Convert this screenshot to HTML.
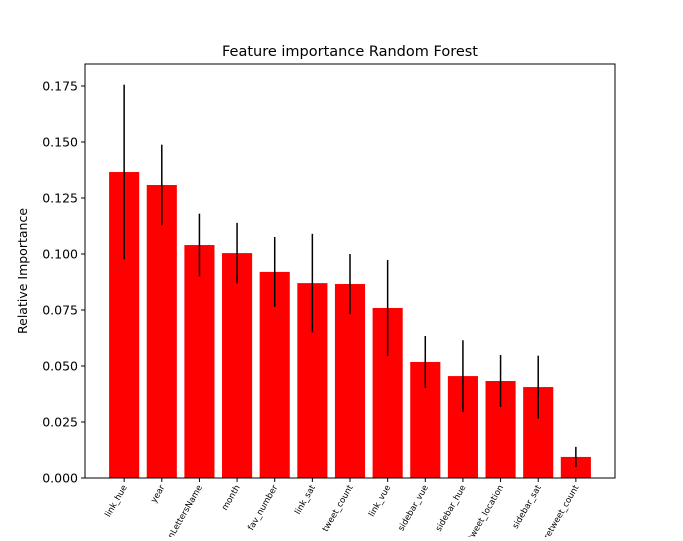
<!DOCTYPE html>
<html><head><meta charset="utf-8"><style>
body{margin:0;background:#fff;font-family:"DejaVu Sans","Liberation Sans",sans-serif;overflow:hidden}
svg text{font-family:"DejaVu Sans","Liberation Sans",sans-serif}
</style></head><body>
<svg id="c" width="683" height="537">
<text x="350" y="56" font-size="14.5" text-anchor="middle">Feature importance Random Forest</text>
<text transform="translate(27,271) rotate(-90)" font-size="12.5" text-anchor="middle">Relative Importance</text>
<g id="plot"></g>
<rect x="85" y="64" width="530" height="414" fill="none" stroke="#000" stroke-width="1"/>
</svg>
<script>
const categories=["link_hue","year","nLettersName","month","fav_number","link_sat","tweet_count","link_vue","sidebar_vue","sidebar_hue","tweet_location","sidebar_sat","retweet_count"];
const importances=[0.1366,0.1308,0.104,0.1004,0.092,0.087,0.0866,0.0759,0.0518,0.0455,0.0433,0.0406,0.0094];
const errors=[0.039,0.018,0.014,0.0135,0.0156,0.022,0.0134,0.0214,0.0116,0.016,0.0116,0.014,0.0045];
const yTicks=[0,0.025,0.05,0.075,0.1,0.125,0.15,0.175];
const yTickLabels=["0.000","0.025","0.050","0.075","0.100","0.125","0.150","0.175"];
const NS="http://www.w3.org/2000/svg";
const L=85,R=615,T=64,B=478;
const xmin=-1.04,xmax=13.04;
const x=v=>L+(v-xmin)/(xmax-xmin)*(R-L);
const y=v=>B-v*2240;
const g=document.getElementById('plot');
function mk(t,a){const e=document.createElementNS(NS,t);for(const k in a)e.setAttribute(k,a[k]);g.appendChild(e);return e;}
yTicks.forEach((v,i)=>{
  const tk=mk('line',{x1:L-4,x2:L,y1:y(v),y2:y(v),stroke:'#000'});
  
  
  const t=mk('text',{x:L-7,y:y(v)+4.5,'font-size':'12.5','text-anchor':'end'});
  t.textContent=yTickLabels[i];
  
  
});
categories.forEach((c,i)=>{
  const w=x(0.4)-x(-0.4);
  const b=mk('rect',{x:x(i-0.4),y:y(importances[i]),width:w,height:y(0)-y(importances[i]),fill:'#ff0000'});
  
  
  const e=mk('line',{x1:x(i),x2:x(i),y1:y(importances[i]+errors[i]),y2:y(importances[i]-errors[i]),stroke:'#000','stroke-width':1.5});
  
  
  const tk=mk('line',{x1:x(i),x2:x(i),y1:B,y2:B+4,stroke:'#000'});
  
  
  const t=mk('text',{transform:`translate(${x(i)+3},${B+9}) rotate(-60)`,'font-size':'8.5','text-anchor':'end'});
  t.textContent=c;
  
  
});
</script>
</body></html>
